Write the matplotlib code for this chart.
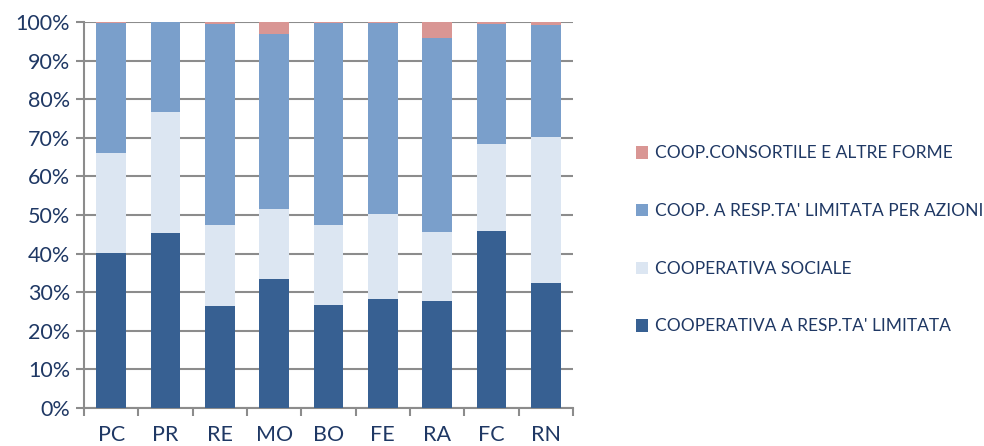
import matplotlib
matplotlib.use("Agg")
from matplotlib import pyplot as plt
from matplotlib.ticker import PercentFormatter
import numpy as np

province = ['PC', 'PR', 'RE', 'MO', 'BO', 'FE', 'RA', 'FC', 'RN']
coop_resp_limitata = [40.1, 45.3, 26.4, 33.3, 26.8, 28.2, 27.6, 45.9, 32.3]
coop_sociale = [26.0, 31.5, 21.1, 18.2, 20.5, 22.0, 17.9, 22.6, 38.0]
coop_azioni = [33.7, 23.2, 52.0, 45.5, 52.4, 49.5, 50.4, 31.0, 28.8]
coop_consortile = [0.2, 0.0, 0.5, 3.0, 0.3, 0.3, 4.1, 0.5, 0.9]

labels = ["COOPERATIVA A RESP.TA' LIMITATA", "COOPERATIVA SOCIALE",
          "COOP. A RESP.TA' LIMITATA PER AZIONI", "COOP.CONSORTILE E ALTRE FORME"]
colors = ['#376092', '#DCE6F2', '#7A9FCB', '#D99694']
text_col = '#1F3864'

plt.rcParams['font.family'] = ['Lato', 'DejaVu Sans']

fig = plt.figure(figsize=(9.84, 4.46), dpi=100)
ax = fig.add_axes([0.0854, 0.0852, 0.4969, 0.8655])

x = np.arange(len(province))
bottom = np.zeros(len(province))
bars = []
for vals, lab, col in zip([coop_resp_limitata, coop_sociale, coop_azioni, coop_consortile], labels, colors):
    b = ax.bar(x, vals, 0.55, bottom=bottom, color=col, label=lab, zorder=3)
    bars.append(b)
    bottom += np.array(vals)

ax.set_xlim(-0.5, len(province) - 0.5)
ax.set_ylim(0, 100)
ax.set_yticks(np.arange(0, 101, 10))
ax.yaxis.set_major_formatter(PercentFormatter(decimals=0))
ax.set_xticks(x)
ax.set_xticklabels(province)
ax.set_xticks(np.arange(-0.5, len(province), 1), minor=True)
ax.tick_params(axis='x', which='major', length=0, pad=12, labelsize=15.5, labelcolor=text_col)
ax.tick_params(axis='x', which='minor', length=6, width=1.5, color='#8c8c8c', direction='out')
ax.tick_params(axis='y', length=6, width=1.5, color='#8c8c8c', labelsize=15.5, labelcolor=text_col, pad=4)
ax.grid(axis='y', color='#8c8c8c', linewidth=1.5, zorder=0)
for s in ['top', 'right']:
    ax.spines[s].set_visible(False)
for s in ['left', 'bottom']:
    ax.spines[s].set_color('#8c8c8c')
    ax.spines[s].set_linewidth(1.5)

handles = bars[::-1]
leg = fig.legend(handles, labels[::-1], loc='center left', bbox_to_anchor=(0.63, 0.462),
                 frameon=False, fontsize=12.5, labelspacing=2.4, handlelength=0.72,
                 handleheight=0.72, handletextpad=0.4, labelcolor=text_col)

fig.savefig('out.png', dpi=100)
